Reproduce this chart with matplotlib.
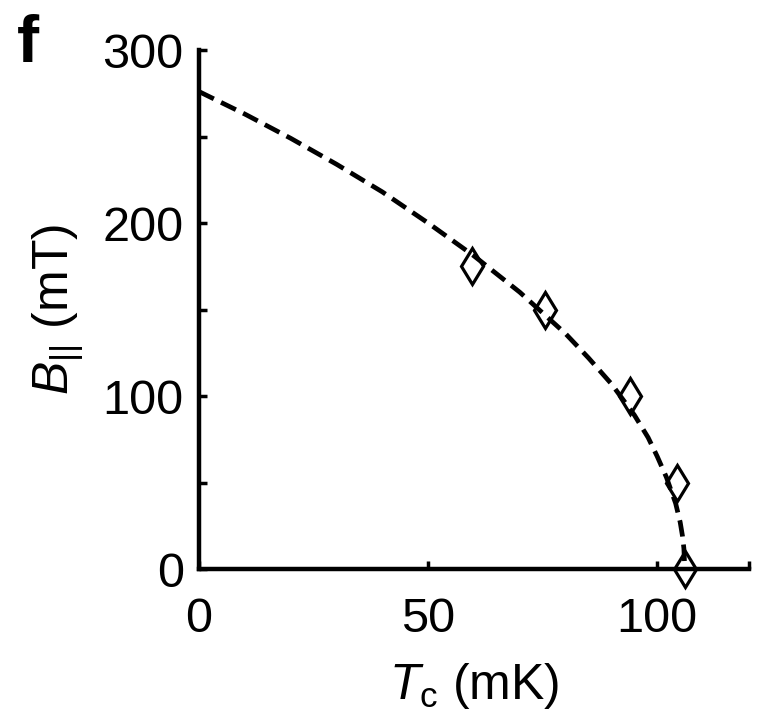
#!/usr/bin/env python3
import matplotlib
matplotlib.use("Agg")
import matplotlib.pyplot as plt

# measured critical temperatures and parallel fields
tc_data = [59.5, 75.5, 94.0, 104.3, 106.0]
b_data = [175, 150, 100, 50, 0]

# dashed fit curve
tc_fit = [0, 10, 20, 30, 40, 50, 60, 70, 80, 85, 90, 95, 98, 100, 102, 104, 105, 105.5, 105.8, 106]
b_fit = [276, 263, 249, 234, 218, 200, 181, 160, 136, 122, 107, 89, 76, 65, 53, 38, 27, 19, 12, 0]

x_ticks = [0, 50, 100, 120]
x_labels = ["0", "50", "100", ""]
y_ticks = [0, 50, 100, 150, 200, 250, 300]
y_labels = ["0", "", "100", "", "200", "", "300"]


def main() -> None:
    plt.rcParams["font.family"] = ["Liberation Sans", "DejaVu Sans"]
    plt.rcParams["mathtext.fontset"] = "custom"
    plt.rcParams["mathtext.rm"] = "Liberation Sans"
    plt.rcParams["mathtext.it"] = "Liberation Sans:italic"

    fig = plt.figure(figsize=(7.68, 7.12), dpi=100)
    ax = fig.add_axes([0.2591, 0.2008, 0.7161, 0.7289])

    ax.plot(tc_fit, b_fit, color="black", lw=3.4, dashes=(3.5, 1.7), clip_on=False)
    ax.plot(tc_data, b_data, linestyle="none", marker="d", markersize=18,
            markerfacecolor="none", markeredgecolor="black", markeredgewidth=2.3,
            clip_on=False)

    ax.set_xlim(0, 120)
    ax.set_ylim(0, 300)
    ax.set_xticks(x_ticks, labels=x_labels)
    ax.set_yticks(y_ticks, labels=y_labels)

    for side in ["top", "right"]:
        ax.spines[side].set_visible(False)
    for side in ["left", "bottom"]:
        ax.spines[side].set_linewidth(3.2)

    ax.tick_params(axis="both", direction="in", length=6, width=2.5,
                   labelsize=35)
    ax.tick_params(axis="x", pad=20)
    ax.tick_params(axis="y", pad=11)

    ax.set_xlabel(r"$\mathit{T}_{\mathrm{c}}$ (mK)", fontsize=36, labelpad=14)
    ax.set_ylabel(r"$\mathit{B}_{||}$ (mT)", fontsize=36, labelpad=12)

    fig.text(0.022, 0.913, "f", fontsize=48, fontweight="bold",
             va="baseline", ha="left")

    fig.savefig("out.png", dpi=100)


if __name__ == "__main__":
    main()
